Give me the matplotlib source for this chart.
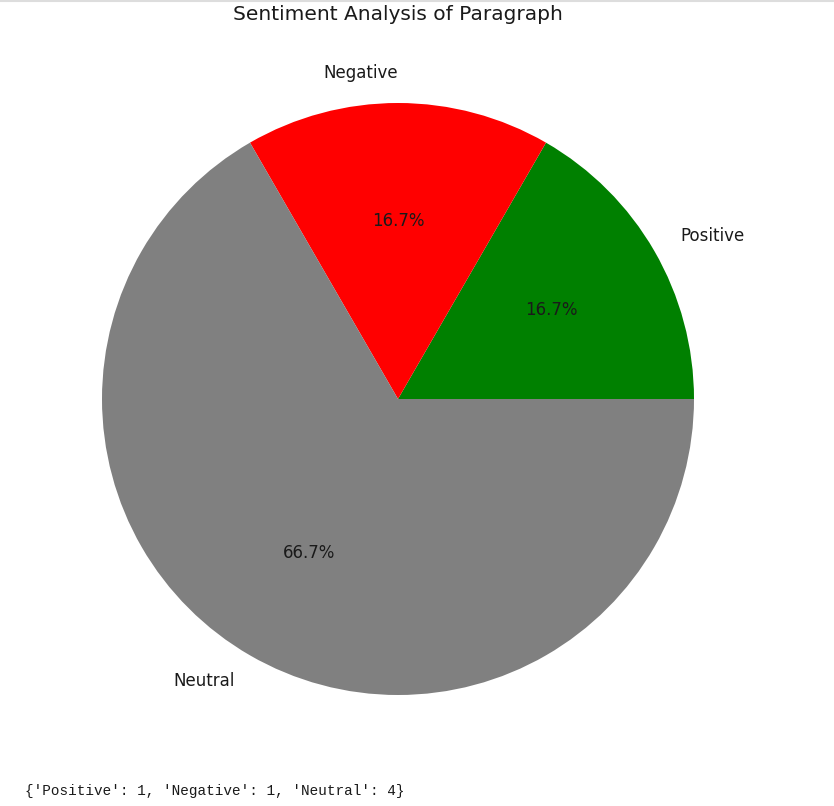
import matplotlib
matplotlib.use('Agg')
import matplotlib.pyplot as plt
from matplotlib.lines import Line2D

labels = ['Positive', 'Negative', 'Neutral']
counts = [1, 1, 4]
colors = ['green', 'red', 'gray']

W, H = 834, 806
fig = plt.figure(figsize=(W / 100, H / 100), dpi=100)

# pie area: centre (398, 399) px, radius 296 px; pie limits are +-1.25
cx, cy, r = 398, 399, 296
half = 1.25 * r
ax = fig.add_axes([(cx - half) / W, (H - cy - half) / H, 2 * half / W, 2 * half / H])
ax.pie(counts, labels=labels, colors=colors, autopct='%1.1f%%',
       textprops={'fontsize': 12, 'color': '#1a1a1a'})
ax.set_aspect('equal')

fig.text(cx / W, 1 - 14 / H, 'Sentiment Analysis of Paragraph',
         fontsize=14.5, ha='center', va='center', color='#1a1a1a')

# notebook printout under the chart
counts_dict = dict(zip(labels, counts))
fig.text(25 / W, 1 - 791 / H, str(counts_dict), family='Liberation Mono',
         fontsize=10.4, va='center', ha='left', color='#1a1a1a')

fig.add_artist(Line2D([0, 1], [1 - 1 / H, 1 - 1 / H], color='#dddddd', lw=1.5))

fig.savefig('out.png', dpi=100)
